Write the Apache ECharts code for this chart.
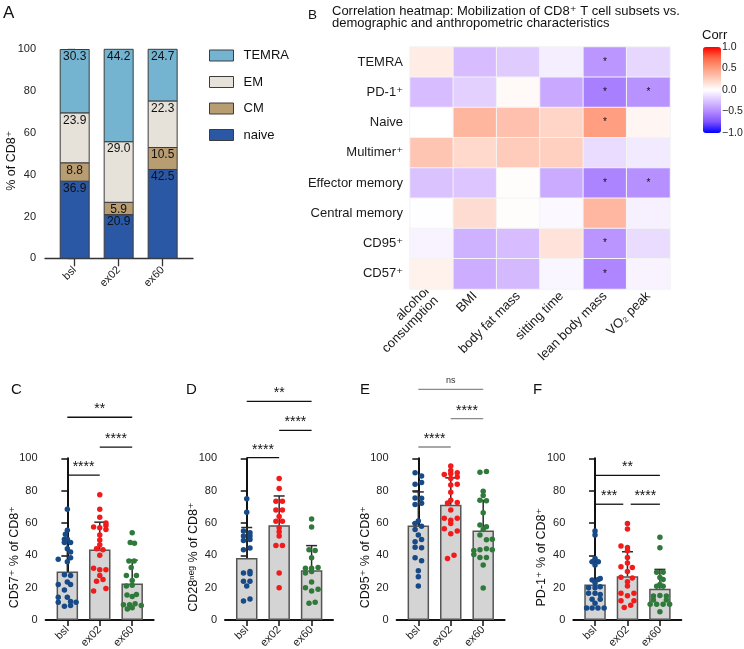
<!DOCTYPE html>
<html>
<head>
<meta charset="utf-8">
<script src="https://cdn.jsdelivr.net/npm/echarts@6/dist/echarts.min.js"></script>
<style>
html, body { margin: 0; padding: 0; background: #fff; }
#chart { width: 744px; height: 649px; }
</style>
</head>
<body>
<div id="chart"></div>
<script>
// ---------- data ----------
const groups = ['bsl', 'ex02', 'ex60'];
const groupColors = ['#174a86', '#f21b1b', '#2f7a3a'];

// A: CD8+ subset composition (%)
const naivePct = [36.9, 20.9, 42.5];
const cmPct = [8.8, 5.9, 10.5];
const emPct = [23.9, 29.0, 22.3];
const temraPct = [30.3, 44.2, 24.7];

// B: correlation heatmap
const corrRows = ['TEMRA', 'PD-1⁺', 'Naive', 'Multimer⁺', 'Effector memory', 'Central memory', 'CD95⁺', 'CD57⁺'];
const corrCols = ['alcohol\nconsumption', 'BMI', 'body fat mass', 'sitting time', 'lean body mass', 'VO₂ peak'];
const corrTEMRA    = [ 0.10, -0.28, -0.22, -0.07, -0.45, -0.17];
const corrPD1      = [-0.28, -0.20,  0.03, -0.37, -0.55, -0.47];
const corrNaive    = [ 0.00,  0.38,  0.32,  0.22,  0.50,  0.05];
const corrMultimer = [ 0.30,  0.20,  0.27,  0.25, -0.15, -0.09];
const corrEM       = [-0.26, -0.24,  0.01, -0.36, -0.53, -0.48];
const corrCM       = [-0.01,  0.18,  0.01, -0.03,  0.37, -0.06];
const corrCD95     = [-0.05, -0.33, -0.28,  0.15, -0.46, -0.15];
const corrCD57     = [ 0.07, -0.35, -0.30, -0.04, -0.52, -0.05];
const sigCells = [[0, 4], [1, 4], [1, 5], [2, 4], [4, 4], [4, 5], [6, 4], [7, 4]]; // [row, col]
const corrTicks = [-1, -0.5, 0, 0.5, 1];

// C: CD57+
const cMean = [30.0, 43.6, 22.6];
const cSD = [18.0, 16.9, 14.4];
const cBsl = [[0,68.5],[0,55.5],[-0.06,53],[-0.09,50],[0,50],[-0.09,48],[0.1,48],[0,44],[0.1,42],[-0.28,37.5],[0.1,38.5],[0,36],[-0.09,28],[0.1,27.5],[0,23.5],[-0.28,22],[0.1,22],[-0.09,18.5],[-0.28,14],[0,14],[-0.28,11],[0.1,11.5],[0.27,11],[-0.09,8.5],[0.1,9]];
const cEx02 = [[0,77.5],[0,68.5],[0,63.5],[0.19,60],[-0.19,57.5],[0,57],[0.19,58.5],[0.19,56],[0,52.5],[0,49.5],[0,46.5],[-0.1,44],[0.1,43.5],[0,40],[-0.19,32],[0,31],[0.19,31],[0,27.5],[0.1,25],[-0.1,24],[0.19,19.5],[-0.19,18]];
const cEx60 = [[0,54],[-0.06,48],[0.07,47.5],[-0.1,36.5],[0.06,36.5],[-0.03,32.5],[-0.18,27.5],[0.13,27.5],[0,24.5],[-0.18,21],[0,21.5],[-0.16,15.5],[0.13,15.8],[0,14.5],[-0.27,9.5],[-0.08,9.5],[0.09,10],[0.28,9],[-0.15,6.8],[0,7.6]];
const cSig = [[0, 1, 89.6, '****'], [1, 2, 106.9, '****'], [0, 2, 125.4, '**']];

// D: CD28neg
const dMean = [38.3, 58.6, 30.7];
const dSD = [18.9, 18.1, 15.3];
const dBsl = [[0,75],[0,66.7],[-0.1,55],[0.1,54],[-0.1,52],[0.1,52],[-0.1,49.2],[0.1,49.8],[-0.1,43.4],[0.1,44.6],[-0.1,29],[0.1,30],[0.1,28.6],[-0.1,24],[0.1,24],[0,21],[-0.1,11.7],[0.1,13]];
const dEx02 = [[0,87.5],[0,81.3],[-0.1,73.5],[0.1,73.5],[-0.1,68],[0.1,68],[0,64],[-0.1,61],[0.1,61],[0,57],[0,54.5],[0,52],[-0.1,46],[0.1,46],[0,29],[0,20]];
const dEx60 = [[0,62.5],[0,57.5],[-0.08,43.5],[0.11,43],[0,38.5],[-0.19,32],[0,32],[0.2,32.5],[-0.19,29],[0,30],[0,23.5],[-0.19,20],[0.2,19],[0,18],[-0.08,10.3],[0.11,11]];
const dSig = [[0, 1, 100.4, '****'], [1, 2, 117.3, '****'], [0, 2, 135.2, '**']];

// E: CD95+
const eMean = [58.4, 71.2, 55.3];
const eSD = [20.8, 16.7, 18.6];
const eBsl = [[-0.1,91],[0.1,89],[-0.1,84],[0.1,85],[-0.1,75.5],[0.1,75.3],[-0.1,71.4],[0.1,72.2],[0,61.3],[-0.1,59.7],[0.1,58],[-0.1,56],[0,52.5],[-0.1,48.4],[0.1,49.8],[-0.1,45],[0.1,44.7],[-0.1,38.5],[0.1,36.6],[0,30.5],[0,26.7],[0,21]];
const eEx02 = [[0,95.3],[-0.2,90],[0,90.5],[0.2,91],[0,92.5],[0.2,88.5],[0,87.5],[0.2,84],[0,83.5],[0,79],[0,74],[-0.1,72.4],[0.2,72.6],[0,68],[-0.2,63],[0.2,63],[0,61.7],[0,59.7],[-0.2,56.4],[0.2,55.1],[0,53.3],[-0.1,38],[0.1,40]];
const eEx60 = [[-0.1,91.4],[0.1,91.8],[0,79.6],[0,77],[-0.1,74],[0.1,73.7],[0,66.3],[-0.1,58.8],[0.1,57.6],[0,56],[-0.1,52.5],[0.1,49.6],[0.28,50],[-0.29,43],[-0.1,43.4],[0.1,44],[0.28,43.4],[-0.29,40.5],[-0.1,38.7],[0.1,38.7],[0,34],[0,19.8]];
const eSig = [[0, 1, 107, '****'], [1, 2, 124.5, '****'], [0, 2, 142.6, 'ns']];

// F: PD-1+
const fMean = [22.0, 27.0, 19.3];
const fSD = [13.8, 15.2, 12.0];
const fBsl = [[0,55],[0,52.5],[0,38],[-0.09,36],[0.1,36],[0,34],[-0.09,24.7],[0.1,25.1],[0.16,25.7],[0,23],[-0.2,20],[0,20],[0.16,20.6],[-0.2,16.5],[0,16.5],[0.16,15.8],[-0.09,12.8],[0.16,12.8],[0,10.3],[-0.26,7.4],[-0.09,7.4],[0.09,7.4],[0.28,7.4]];
const fEx02 = [[0,59.7],[0,56.2],[-0.2,45.7],[0,44.9],[0,42.8],[0,38.7],[0,35.2],[-0.2,32.9],[0.15,32.5],[0,30],[-0.2,26.5],[0.15,26],[0,23.7],[0,21],[-0.2,16.5],[0.2,16.5],[0,15],[-0.2,11.9],[0.2,11.9],[-0.1,7.8],[0.1,9.1]];
const fEx60 = [[0,51.2],[0,44.7],[-0.1,29.6],[0.1,29.6],[0,26.3],[0.1,25],[0,22],[-0.1,20.8],[0.1,20.8],[-0.2,14.8],[0,15.2],[0.2,14.8],[-0.2,12.3],[0.2,12.3],[-0.3,9.7],[-0.1,9.7],[0.1,9.7],[0.3,9.7],[0,5.1]];
const fSig = [[0, 0.87, 71.6, '***'], [1.1, 2, 71.6, '****'], [0, 2, 89.5, '**']];

// ---------- chart ----------
const FONT = 'Liberation Sans, Arial, Helvetica, DejaVu Sans, sans-serif';
const chart = echarts.init(document.getElementById('chart'), null, { renderer: 'canvas' });

const corrMatrix = [corrTEMRA, corrPD1, corrNaive, corrMultimer, corrEM, corrCM, corrCD95, corrCD57];
const heatData = [];
corrMatrix.forEach((row, r) => row.forEach((v, c) => heatData.push([c, r, v])));
const isSig = (r, c) => sigCells.some(s => s[0] === r && s[1] === c);

const panels = [
  { mean: cMean, sd: cSD, pts: [cBsl, cEx02, cEx60], sig: cSig, left: 45.6, name: 'CD57⁺ % of CD8⁺', sigColor: '#111' },
  { mean: dMean, sd: dSD, pts: [dBsl, dEx02, dEx60], sig: dSig, left: 225, name: 'CD28ⁿᵉᵍ % of CD8⁺', sigColor: '#111' },
  { mean: eMean, sd: eSD, pts: [eBsl, eEx02, eEx60], sig: eSig, left: 396.6, name: 'CD95⁺ % of CD8⁺', sigColor: '#8a8a8a' },
  { mean: fMean, sd: fSD, pts: [fBsl, fEx02, fEx60], sig: fSig, left: 573.3, name: 'PD-1⁺ % of CD8⁺', sigColor: '#111' }
];

const grids = [
  { left: 45, top: 49.3, width: 148, height: 209 },   // A
  { left: 410, top: 47, width: 260, height: 242 },    // B heatmap
  { left: 703, top: 47, width: 18, height: 86 }       // B colour bar labels
];
panels.forEach(p => grids.push({ left: p.left, top: 458.3, width: 108, height: 161.7 }));
grids.forEach(g => { g.outerBoundsMode = 'none'; g.containLabel = false; });

const xAxes = [
  {
    gridIndex: 0, type: 'value', min: -0.675, max: 2.69,
    axisLine: { show: true, lineStyle: { color: '#333', width: 1.3 } },
    axisTick: { show: true, length: 8, customValues: [0, 1, 2], lineStyle: { color: '#333', width: 1.3 } },
    axisLabel: { customValues: [0, 1, 2], formatter: v => groups[v], rotate: 45, fontSize: 11, color: '#222', margin: 10 },
    splitLine: { show: false }
  },
  {
    gridIndex: 1, type: 'category', data: corrCols,
    axisLine: { show: false }, axisTick: { show: false }, splitLine: { show: false },
    axisLabel: { rotate: 45, fontSize: 13, color: '#1a1a1a', margin: 5, interval: 0, lineHeight: 13 }
  },
  { gridIndex: 2, type: 'value', show: false }
];
const yAxes = [
  {
    gridIndex: 0, type: 'value', min: 0, max: 100, interval: 20,
    name: '% of CD8⁺', nameLocation: 'middle', nameGap: 27, nameMoveOverlap: false,
    nameTextStyle: { fontSize: 12.5, color: '#111', padding: [0, 14, 0, 0] },
    axisLine: { show: true, lineStyle: { color: '#333', width: 1.3 } },
    axisTick: { show: true, length: 7, lineStyle: { color: '#333', width: 1.3 } },
    axisLabel: { fontSize: 11, color: '#222', margin: 9 },
    splitLine: { show: false }
  },
  {
    gridIndex: 1, type: 'category', data: corrRows, inverse: true,
    axisLine: { show: false }, axisTick: { show: false }, splitLine: { show: false },
    axisLabel: { fontSize: 13, color: '#1a1a1a', margin: 7 }
  },
  {
    gridIndex: 2, type: 'value', position: 'right', min: -1, max: 1, interval: 0.5,
    axisLine: { show: false }, axisTick: { show: false }, splitLine: { show: false },
    axisLabel: { fontSize: 10.5, color: '#222', margin: 1, customValues: corrTicks,
      formatter: v => (v < 0 ? '\u2212' + Math.abs(v).toFixed(1) : v.toFixed(1)) }
  }
];

const series = [];
// A stacked bars (drawn as custom rects on the library's scales)
const subsets = [['naive', naivePct, '#2b58a4'], ['CM', cmPct, '#b89d72'], ['EM', emPct, '#e6e2da'], ['TEMRA', temraPct, '#74b4d0']];
const base = groups.map(() => 0);
subsets.forEach(([name, vals, color]) => {
  const data = vals.map((v, i) => { const d = [i, base[i], base[i] + v, v]; base[i] += v; return d; });
  series.push({
    name, type: 'custom', xAxisIndex: 0, yAxisIndex: 0, clip: false, silent: true,
    itemStyle: { color },
    data,
    renderItem: (params, api) => {
      const x = api.value(0);
      const pb = api.coord([x, api.value(1)]);
      const pt = api.coord([x, api.value(2)]);
      return { type: 'group', children: [
        { type: 'rect', shape: { x: pb[0] - 14.5, y: pt[1], width: 29, height: pb[1] - pt[1] },
          style: { fill: color, stroke: '#3c3c3c', lineWidth: 1 } },
        { type: 'text', x: pb[0], y: pt[1] + 1.5,
          style: { text: api.value(3).toFixed(1), align: 'center', verticalAlign: 'top',
            fontSize: 12, fontFamily: FONT, fill: '#111' } }
      ] };
    }
  });
});

// B heatmap
series.push({
  name: 'Corr', type: 'heatmap', xAxisIndex: 1, yAxisIndex: 1, data: heatData,
  itemStyle: { borderColor: '#f3f3f3', borderWidth: 1 },
  label: { show: true, fontSize: 10, color: '#111', formatter: p => (isSig(p.value[1], p.value[0]) ? '*' : '') },
  emphasis: { disabled: true }
});
const heatIndex = series.length - 1;

// C-F
function errRender(params, api) {
  const x = api.value(0), m = api.value(1), s = api.value(2);
  const p0 = api.coord([x, m]);
  const p1 = api.coord([x, m + s]);
  const st = { stroke: '#2a2a2a', lineWidth: 1.5 };
  return { type: 'group', children: [
    { type: 'line', shape: { x1: p0[0], y1: p0[1], x2: p1[0], y2: p1[1] }, style: st },
    { type: 'line', shape: { x1: p1[0] - 5.5, y1: p1[1], x2: p1[0] + 5.5, y2: p1[1] }, style: st }
  ] };
}

panels.forEach((p, k) => {
  const gi = k + 3;
  xAxes.push({
    gridIndex: gi, type: 'value', min: -0.67, max: 2.66,
    axisLine: { show: true, lineStyle: { color: '#111', width: 2 } },
    axisTick: { show: true, length: 6, customValues: [0, 1, 2], lineStyle: { color: '#111', width: 1.5 } },
    axisLabel: { customValues: [0, 1, 2], formatter: v => groups[v], rotate: 45, fontSize: 11, color: '#222', margin: 8 },
    splitLine: { show: false }
  });
  yAxes.push({
    gridIndex: gi, type: 'value', min: 0, max: 100, interval: 20,
    name: p.name, nameLocation: 'middle', nameGap: 25, nameMoveOverlap: false,
    nameTextStyle: { fontSize: 12.5, color: '#111', padding: [0, 36, 0, 0] },
    axisLine: { show: true, lineStyle: { color: '#111', width: 2 } },
    axisTick: { show: true, length: 6, lineStyle: { color: '#111', width: 1.5 } },
    axisLabel: { fontSize: 11, color: '#222', margin: 8 },
    splitLine: { show: false }
  });
  series.push({
    type: 'bar', xAxisIndex: gi, yAxisIndex: gi, barWidth: 21.5,
    data: p.mean.map((v, i) => [i, v]),
    itemStyle: { color: '#d4d4d4', borderColor: '#555', borderWidth: 1.5 },
    emphasis: { disabled: true }, z: 2
  });
  series.push({
    type: 'custom', xAxisIndex: gi, yAxisIndex: gi, clip: false,
    data: p.mean.map((v, i) => [i, v, p.sd[i]]),
    renderItem: errRender, z: 3, silent: true
  });
  p.pts.forEach((pts, i) => {
    series.push({
      type: 'scatter', xAxisIndex: gi, yAxisIndex: gi, symbolSize: 5.5,
      data: pts.map(q => [i + q[0], q[1]]),
      itemStyle: { color: groupColors[i], opacity: 1 },
      emphasis: { disabled: true }, z: 4
    });
  });
  const sig = p.sig;
  series.push({
    type: 'custom', xAxisIndex: gi, yAxisIndex: gi, clip: false, silent: true,
    data: sig.map(s => [s[0], s[1], s[2]]),
    renderItem: (params, api) => {
      const a = api.coord([api.value(0), api.value(2)]);
      const b = api.coord([api.value(1), api.value(2)]);
      const txt = sig[params.dataIndex][3];
      const ns = txt === 'ns';
      return { type: 'group', children: [
        { type: 'line', shape: { x1: a[0], y1: a[1], x2: b[0], y2: b[1] },
          style: { stroke: p.sigColor, lineWidth: 1.3 } },
        { type: 'text', x: (a[0] + b[0]) / 2, y: a[1] - (ns ? 4 : 1),
          style: { text: txt, align: 'center', verticalAlign: 'bottom',
            fontSize: ns ? 9 : 14, fontFamily: FONT, fill: ns ? '#333' : '#111' } }
      ] };
    }
  });
});

const letterStyle = { fontSize: 17, fontWeight: 'normal', color: '#111', fontFamily: FONT };
const panelLetter = { fontSize: 15, fontWeight: 'normal', color: '#111', fontFamily: FONT };
const option = {
  animation: false,
  backgroundColor: '#fff',
  textStyle: { fontFamily: FONT },
  title: [
    { text: 'A', left: 3, top: 5, padding: 0, textStyle: letterStyle },
    { text: 'B', left: 308, top: 8, padding: 0, textStyle: { fontSize: 13.5, fontWeight: 'normal', color: '#111' } },
    { text: 'Correlation heatmap: Mobilization of CD8⁺ T cell subsets vs.\ndemographic and anthropometric characteristics',
      left: 332, top: 5, padding: 0,
      textStyle: { fontSize: 13, fontWeight: 'normal', color: '#111', lineHeight: 12 } },
    { text: 'Corr', left: 702, top: 29, padding: 0, textStyle: { fontSize: 13, fontWeight: 'normal', color: '#111' } },
    { text: 'C', left: 11, top: 382, padding: 0, textStyle: panelLetter },
    { text: 'D', left: 186, top: 382, padding: 0, textStyle: panelLetter },
    { text: 'E', left: 360, top: 382, padding: 0, textStyle: panelLetter },
    { text: 'F', left: 533, top: 382, padding: 0, textStyle: panelLetter }
  ],
  legend: {
    data: subsets.slice().reverse().map(([name, , color]) => ({
      name, icon: 'rect', itemStyle: { color, borderColor: '#3c3c3c', borderWidth: 1 }
    })),
    orient: 'vertical', left: 209, top: 49, padding: 0,
    itemWidth: 24, itemHeight: 11, itemGap: 13.5,
    selectedMode: false,
    textStyle: { fontSize: 13, color: '#111', padding: [0, 0, 0, 5] }
  },
  visualMap: {
    type: 'continuous', min: -1, max: 1, dimension: 2, seriesIndex: heatIndex,
    left: 703, top: 47, itemWidth: 18, itemHeight: 86, padding: 0,
    calculable: false, realtime: false, hoverLink: false, text: null, showLabel: false,
    inRange: { color: ['#0000ff', '#7e51ff', '#b38bff', '#dcc4ff', '#ffffff', '#ffcfbf', '#ff9e81', '#ff6846', '#ff0000'] }
  },
  grid: grids,
  xAxis: xAxes,
  yAxis: yAxes,
  series
};
chart.setOption(option);
</script>
</body>
</html>
